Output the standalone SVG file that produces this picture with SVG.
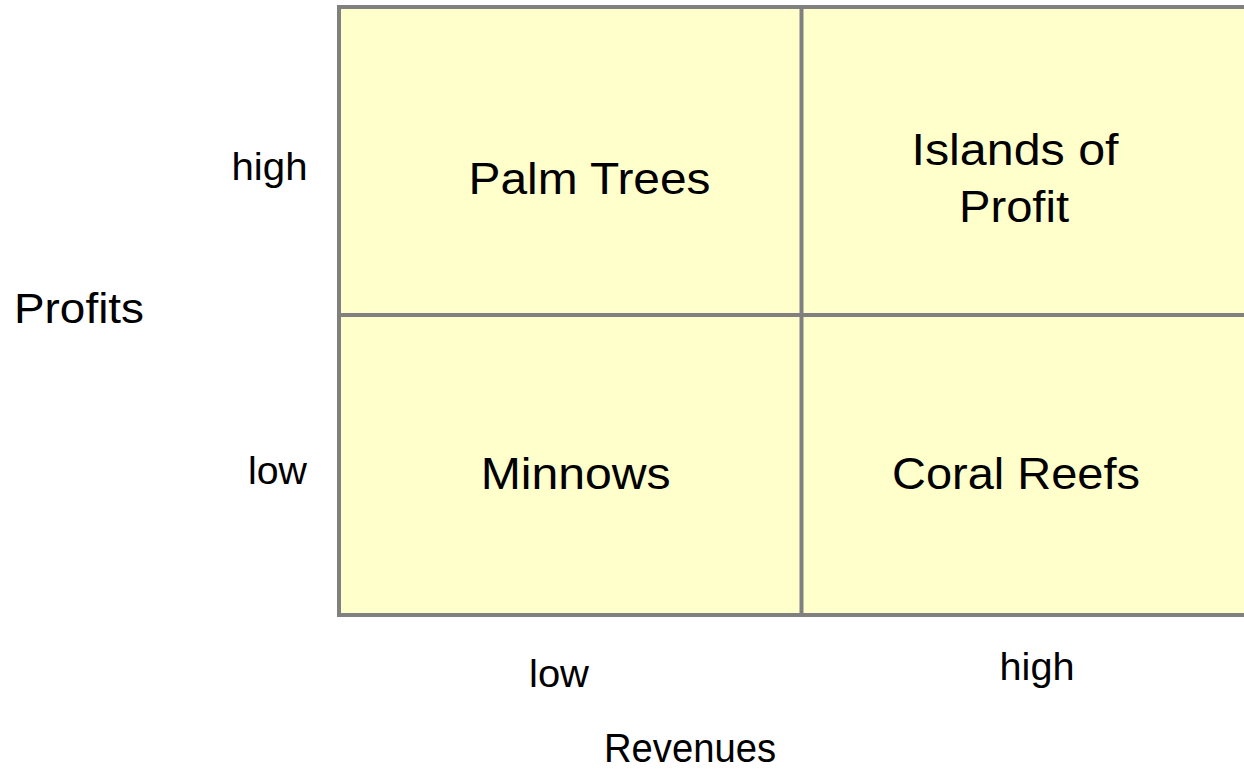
<svg xmlns="http://www.w3.org/2000/svg" width="1244" height="774" viewBox="0 0 1244 774">
  <style>
    text { font-family: "Liberation Sans", Arial, sans-serif; fill: #000; text-anchor: middle; }
    .cell { font-size: 44px; }
    .tick { font-size: 38px; }
    .axis { font-size: 42px; }
    .rev { font-size: 40px; }
    .grid { fill: #FFFFCC; stroke: #808080; stroke-width: 4; }
    .div { stroke: #808080; stroke-width: 4; fill: none; }
  </style>
  <rect width="1244" height="774" fill="#FFFFFF"/>
  <g id="matrix">
    <rect class="grid" x="339" y="7" width="920" height="608"/>
  </g>
  <g id="connectors">
    <line class="div" x1="801.5" y1="7" x2="801.5" y2="615"/>
    <line class="div" x1="339" y1="315" x2="1259" y2="315"/>
  </g>
  <g id="palm-trees"><text class="cell" x="589.5" y="194" textLength="242" lengthAdjust="spacingAndGlyphs">Palm Trees</text></g>
  <g id="islands-of-profit">
    <text class="cell" x="1015" y="165" textLength="207" lengthAdjust="spacingAndGlyphs">Islands of</text>
    <text class="cell" x="1014" y="222" textLength="110" lengthAdjust="spacingAndGlyphs">Profit</text>
  </g>
  <g id="minnows"><text class="cell" x="575.7" y="489" textLength="190" lengthAdjust="spacingAndGlyphs">Minnows</text></g>
  <g id="coral-reefs"><text class="cell" x="1016" y="489" textLength="248" lengthAdjust="spacingAndGlyphs">Coral Reefs</text></g>
  <g id="axis-profits">
    <text class="axis" x="79" y="323" textLength="130" lengthAdjust="spacingAndGlyphs">Profits</text>
    <text class="tick" x="269.5" y="180" textLength="76" lengthAdjust="spacingAndGlyphs">high</text>
    <text class="tick" x="277.5" y="484" textLength="59" lengthAdjust="spacingAndGlyphs">low</text>
  </g>
  <g id="axis-revenues">
    <text class="tick" x="559" y="687" textLength="60" lengthAdjust="spacingAndGlyphs">low</text>
    <text class="tick" x="1037" y="680" textLength="75" lengthAdjust="spacingAndGlyphs">high</text>
    <text class="rev" x="690" y="762" textLength="172" lengthAdjust="spacingAndGlyphs">Revenues</text>
  </g>
</svg>
